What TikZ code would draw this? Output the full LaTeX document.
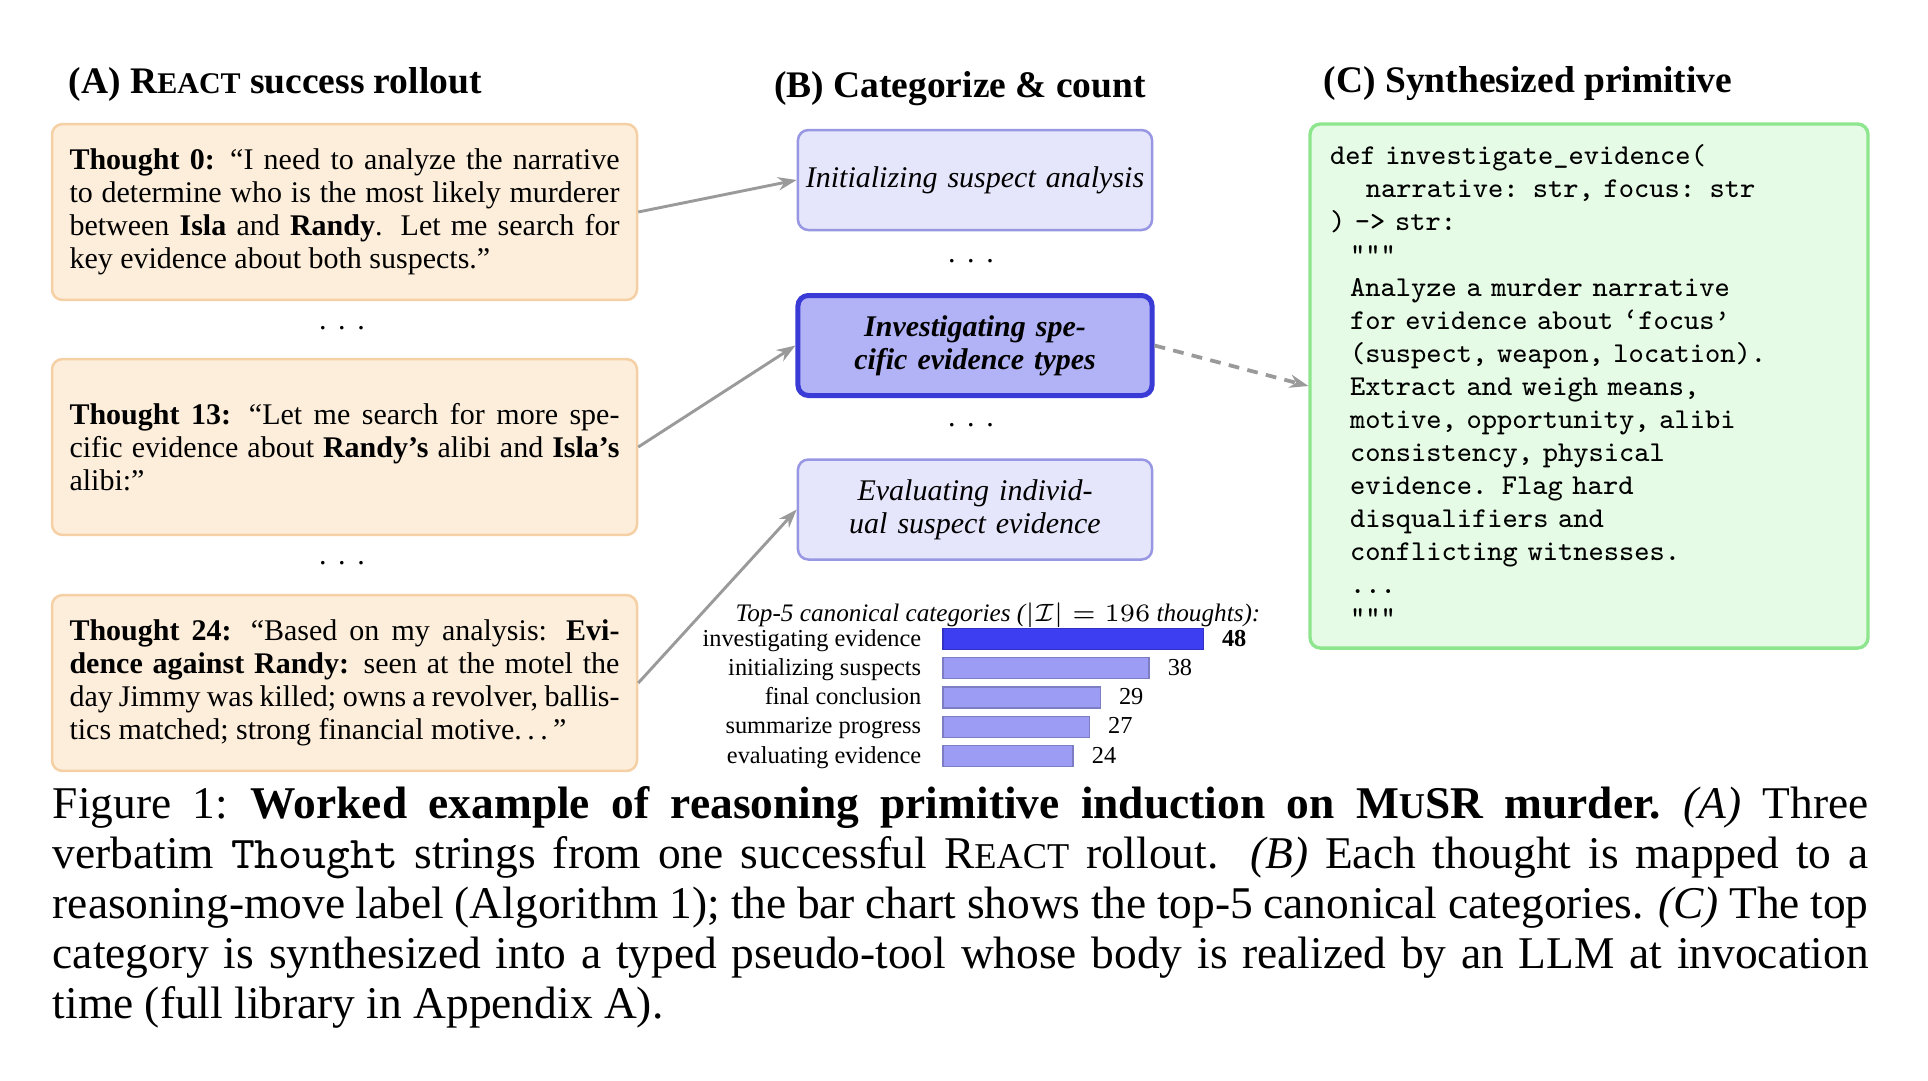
\documentclass[tikz,border=0pt]{standalone}
\usepackage{fontspec}
\setmainfont{Liberation Serif}
\usepackage{amsmath,amssymb}
\usepackage{tikz}
\usetikzlibrary{positioning,arrows.meta,calc}
\definecolor{thoughtfill}{HTML}{FDEEDB}
\definecolor{thoughtdraw}{HTML}{F5D0A4}
\definecolor{catfill}{HTML}{E5E5FB}
\definecolor{catdraw}{HTML}{9797E3}
\definecolor{topfill}{HTML}{B2B2F6}
\definecolor{topdraw}{HTML}{3A3AD6}
\definecolor{barhi}{HTML}{3D3DF2}
\definecolor{barlo}{HTML}{9C9CF5}
\definecolor{codefill}{HTML}{E5FBE5}
\definecolor{codedraw}{HTML}{8DE58D}
\definecolor{arrowgray}{HTML}{9A9A9A}
\makeatletter
\newcommand{\smcp}[1]{{\fontsize{\the\dimexpr\f@size pt*4/5\relax}{\baselineskip}\selectfont #1}}
\makeatother
\newcommand{\gapdots}{.\hspace{2.8pt}.\hspace{2.8pt}.}
\tikzset{
    every node/.style={font=\fontsize{7.2}{7.9}\selectfont},
    paneltitle/.style={font=\fontsize{9}{10}\selectfont\bfseries,inner sep=0pt},
    thoughtbox/.style={rounded corners=2.5pt,draw=thoughtdraw,fill=thoughtfill,line width=0.6pt,
        minimum width=140.4pt,minimum height=42.2pt,text width=132pt,inner xsep=4.2pt,align=justify},
    catbox/.style={rounded corners=2.5pt,draw=catdraw,fill=catfill,line width=0.6pt,
        minimum width=85pt,minimum height=24pt,text width=83pt,inner xsep=1pt,align=center,
        font=\fontsize{7.2}{7.9}\selectfont\itshape},
    topbox/.style={catbox,draw=topdraw,fill=topfill,line width=1.2pt,
        font=\fontsize{7.2}{7.9}\selectfont\bfseries\itshape},
    codebox/.style={rounded corners=2.5pt,draw=codedraw,fill=codefill,line width=0.8pt,
        minimum width=133.9pt,minimum height=125.8pt,text width=124.3pt,inner xsep=4.8pt,align=left,
        font=\fontsize{6.9}{7.92}\selectfont\ttfamily},
    gap/.style={font=\fontsize{7.2}{8}\selectfont,inner sep=0pt},
    barlabel/.style={anchor=base east,inner sep=0pt,font=\fontsize{5.85}{6}\selectfont},
    barvalue/.style={anchor=base west,inner sep=0pt,font=\fontsize{5.85}{6}\selectfont},
    bar/.style={draw=barlo!80!black,fill=barlo,line width=0.3pt},
    topbar/.style={draw=barhi!80!black,fill=barhi,line width=0.3pt},
    flow/.style={draw=arrowgray,line width=0.7pt,-{Stealth[length=4.5pt,width=3.2pt]}},
    dashflow/.style={flow,line width=0.9pt,dash pattern=on 2.6pt off 2pt}
}

\begin{document}
\begin{tikzpicture}[x=0.24pt,y=-0.24pt]
\useasboundingbox (0,0) rectangle (1928,1080);
\node[paneltitle,anchor=west] (titleA) at (68,84) {(A) R\smcp{EACT} success rollout};
\node[paneltitle] (titleB) at (960,89) {(B) Categorize \& count};
\node[paneltitle,anchor=west] (titleC) at (1323,84) {(C) Synthesized primitive};

\node[thoughtbox] (t0) at (344.5,212) {\textbf{Thought 0:} ``I need to analyze the narrative\linebreak
    to determine who is the most likely murderer\linebreak
    between \textbf{Isla} and \textbf{Randy}. Let me search for\linebreak
    key evidence about both suspects.''};
\node[gap] (gapA1) at (342,328) {\gapdots};
\node[thoughtbox] (t13) at (344.5,447) {\textbf{Thought 13:} ``Let me search for more spe-\linebreak
    cific evidence about \textbf{Randy's} alibi and \textbf{Isla's}\linebreak
    alibi:''};
\node[gap] (gapA2) at (342,563) {\gapdots};
\node[thoughtbox] (t24) at (344.5,683) {\textbf{Thought 24:} ``Based on my analysis: \textbf{Evi-}\linebreak
    \textbf{dence against Randy:} seen at the motel the\linebreak
    day Jimmy was killed; owns a revolver, ballis-\linebreak
    tics matched; strong financial motive.\kern1.3pt.\kern1.3pt.\kern1.3pt''};

\node[catbox] (init) at (975,180) {Initializing suspect analysis};
\node[gap] (gapB1) at (971,261) {\gapdots};
\node[topbox] (invest) at (975,345.5) {Investigating spe-\\cific evidence types};
\node[gap] (gapB2) at (971,425) {\gapdots};
\node[catbox] (eval) at (975,509.5) {Evaluating individ-\\ual suspect evidence};

\node[font=\fontsize{6.05}{7}\selectfont\itshape,inner sep=0pt] (charttitle) at (998,615)
    {Top-5 canonical categories ($|\mathcal{I}|=196$ thoughts):};
\draw[topbar] (943,628.5) rectangle ({943+5.42*48},649.5);
\node[barlabel] (lab1) at (922,646) {investigating evidence};
\node[barvalue,font=\fontsize{5.85}{6}\selectfont\bfseries] (val1) at ({961+5.42*48},646) {48};
\foreach \i/\lab/\val in {2/initializing suspects/38,3/final conclusion/29,4/summarize progress/27,5/evaluating evidence/24}{
    \draw[bar] (943,{599.25+29.25*\i}) rectangle ({943+5.42*\val},{620.25+29.25*\i});
    \node[barlabel] (lab\i) at (922,{616.75+29.25*\i}) {\lab};
    \node[barvalue] (val\i) at ({961+5.42*\val},{616.75+29.25*\i}) {\val};
}

\node[codebox] (code) at (1589,386) {def investigate\_evidence(\\
    \hspace*{8.6pt}narrative: str, focus: str\\
    ) -> str:\\
    \hspace*{4.8pt}"""\\
    \hspace*{4.8pt}Analyze a murder narrative\\
    \hspace*{4.8pt}for evidence about ‘focus’\\
    \hspace*{4.8pt}(suspect, weapon, location).\\
    \hspace*{4.8pt}Extract and weigh means,\\
    \hspace*{4.8pt}motive, opportunity, alibi\\
    \hspace*{4.8pt}consistency, physical\\
    \hspace*{4.8pt}evidence. Flag hard\\
    \hspace*{4.8pt}disqualifiers and\\
    \hspace*{4.8pt}conflicting witnesses.\\
    \hspace*{4.8pt}...\\
    \hspace*{4.8pt}"""};

\draw[flow] (t0.east) -- (init.west);
\draw[flow] (t13.east) -- (invest.west);
\draw[flow] (t24.east) -- (eval.west);
\draw[dashflow] (invest.east) -- (code.west);

\node[anchor=north west,inner sep=0pt,text width=435.8pt,align=justify,font=\fontsize{10.9}{12}\selectfont] (caption) at (52,786)
    {Figure 1:\enspace\textbf{Worked example of reasoning primitive induction on M\smcp{U}SR murder.}\enspace\textit{(A)} Three\linebreak
    verbatim \texttt{Thought} strings from one successful R\smcp{EACT} rollout. \textit{(B)} Each thought is mapped to a\linebreak
    reasoning-move label (Algorithm 1); the bar chart shows the top-5 canonical categories. \textit{(C)} The top\linebreak
    category is synthesized into a typed pseudo-tool whose body is realized by an LLM at invocation\linebreak
    time (full library in Appendix A).};
\end{tikzpicture}
\end{document}
